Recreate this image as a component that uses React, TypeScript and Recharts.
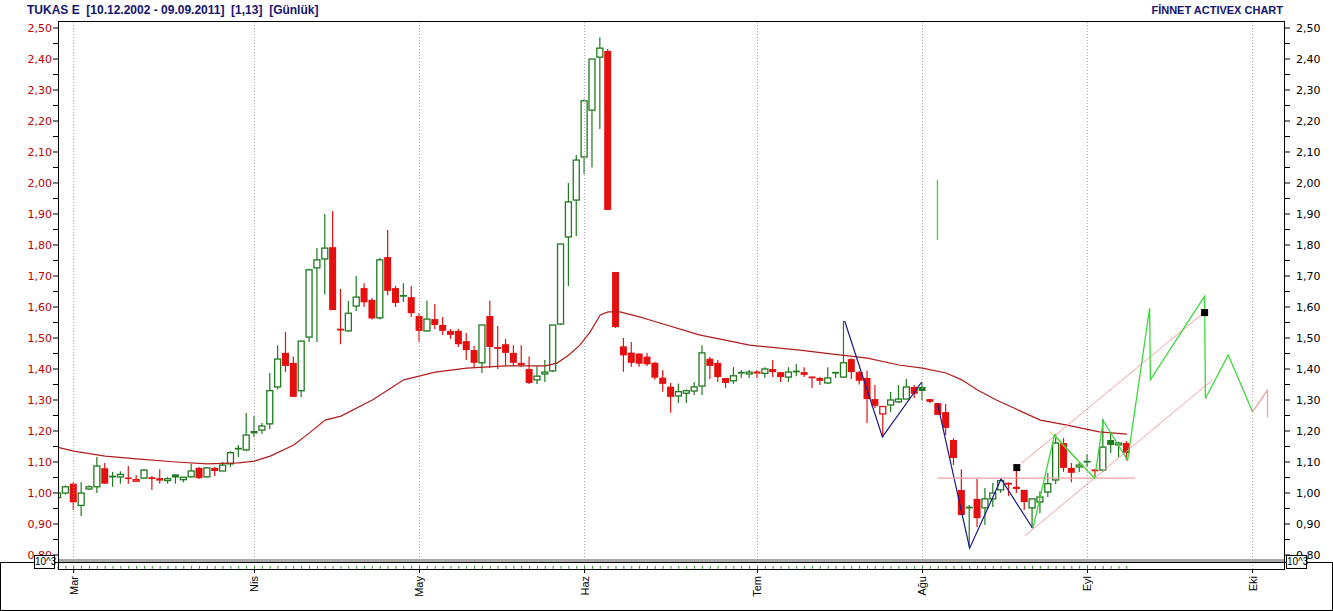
import React from 'react';
import { ComposedChart, Bar, Line, Scatter, XAxis, YAxis, ReferenceLine } from 'recharts';

// ─── Daily candles, one per trading day (index 0 = first visible day) ────────

const OPEN = [
  0.985, 1.0, 1.03, 0.96, 1.013, 1.02, 1.08, 1.05, 1.052, 1.05,
  1.038, 1.048, 1.05, 1.048, 1.04, 1.06, 1.043, 1.052, 1.081, 1.052,
  1.081, 1.071, 1.094, 1.14, 1.139, 1.2, 1.203, 1.223, 1.342, 1.452,
  1.42, 1.33, 1.503, 1.726, 1.755, 1.793, 1.53, 1.523, 1.603, 1.661,
  1.623, 1.565, 1.761, 1.661, 1.632, 1.632, 1.571, 1.523, 1.561, 1.542,
  1.523, 1.523, 1.49, 1.461, 1.42, 1.571, 1.471, 1.48, 1.452, 1.42,
  1.4, 1.365, 1.384, 1.394, 1.545, 1.826, 1.945, 2.084, 2.235, 2.406,
  2.426, 1.713, 1.473, 1.453, 1.45, 1.44, 1.42, 1.372, 1.343, 1.313,
  1.322, 1.329, 1.345, 1.433, 1.42, 1.371, 1.362, 1.385, 1.384, 1.392,
  1.386, 1.4, 1.39, 1.374, 1.389, 1.39, 1.375, 1.371, 1.355, 1.385,
  1.374, 1.432, 1.39, 1.371, 1.303, 1.255, 1.284, 1.294, 1.303, 1.342,
  1.342, 1.303, 1.29, 1.261, 1.171, 1.01, 0.95, 0.981, 0.952, 0.981,
  1.01, 1.034, 1.02, 1.01, 0.952, 0.971, 1.003, 1.042, 1.161, 1.081,
  1.084, 1.099, 1.075, 1.074, 1.171, 1.155, 1.161,
];
const HIGH = [
  1.005, 1.025, 1.035, 1.035, 1.025, 1.116, 1.097, 1.068, 1.07, 1.087,
  1.058, 1.077, 1.055, 1.077, 1.052, 1.06, 1.052, 1.094, 1.084, 1.084,
  1.084, 1.1, 1.135, 1.155, 1.258, 1.248, 1.226, 1.387, 1.477, 1.52,
  1.44, 1.49, 1.723, 1.79, 1.9, 1.91, 1.658, 1.62, 1.7, 1.677,
  1.629, 1.758, 1.848, 1.668, 1.677, 1.668, 1.581, 1.62, 1.61, 1.568,
  1.529, 1.529, 1.516, 1.474, 1.542, 1.62, 1.539, 1.497, 1.477, 1.477,
  1.44, 1.41, 1.429, 1.542, 1.803, 2.0, 2.09, 2.27, 2.4, 2.47,
  2.432, 1.713, 1.5, 1.487, 1.45, 1.452, 1.423, 1.397, 1.355, 1.353,
  1.335, 1.358, 1.477, 1.439, 1.429, 1.371, 1.406, 1.397, 1.397, 1.397,
  1.406, 1.429, 1.39, 1.406, 1.416, 1.406, 1.375, 1.374, 1.406, 1.39,
  1.555, 1.435, 1.394, 1.394, 1.348, 1.281, 1.326, 1.348, 1.368, 1.348,
  1.358, 1.303, 1.29, 1.287, 1.177, 1.077, 0.961, 1.045, 1.016, 1.032,
  1.048, 1.034, 1.09, 1.01, 0.981, 1.006, 1.065, 1.19, 1.177, 1.097,
  1.097, 1.126, 1.077, 1.239, 1.193, 1.165, 1.168,
];
const LOW = [
  0.98, 0.995, 0.945, 0.926, 1.01, 1.0, 1.03, 1.02, 1.03, 1.03,
  1.035, 1.045, 1.01, 1.03, 1.03, 1.03, 1.035, 1.05, 1.045, 1.05,
  1.055, 1.07, 1.084, 1.116, 1.135, 1.18, 1.19, 1.206, 1.335, 1.39,
  1.31, 1.31, 1.487, 1.487, 1.64, 1.59, 1.48, 1.52, 1.587, 1.6,
  1.56, 1.56, 1.638, 1.6, 1.616, 1.568, 1.487, 1.52, 1.529, 1.51,
  1.497, 1.471, 1.429, 1.403, 1.387, 1.403, 1.4, 1.41, 1.41, 1.406,
  1.352, 1.352, 1.358, 1.39, 1.542, 1.668, 1.829, 2.029, 2.05, 2.174,
  1.913, 1.532, 1.391, 1.407, 1.407, 1.41, 1.365, 1.327, 1.259, 1.29,
  1.29, 1.316, 1.316, 1.368, 1.358, 1.339, 1.352, 1.371, 1.371, 1.371,
  1.371, 1.374, 1.358, 1.358, 1.377, 1.374, 1.339, 1.348, 1.352, 1.371,
  1.371, 1.368, 1.35, 1.226, 1.274, 1.18, 1.261, 1.29, 1.303, 1.306,
  1.3, 1.29, 1.252, 1.187, 1.09, 0.929, 0.826, 0.89, 0.897, 0.955,
  1.0, 0.99, 1.0, 0.945, 0.887, 0.935, 0.987, 1.029, 1.068, 1.035,
  1.068, 1.084, 1.052, 1.068, 1.129, 1.116, 1.106,
];
const CLOSE = [
  1.0, 1.02, 0.97, 1.0, 1.02, 1.087, 1.03, 1.053, 1.06, 1.045,
  1.043, 1.074, 1.048, 1.04, 1.046, 1.05, 1.051, 1.071, 1.048, 1.081,
  1.071, 1.09, 1.13, 1.143, 1.187, 1.192, 1.216, 1.33, 1.432, 1.41,
  1.31, 1.49, 1.72, 1.752, 1.79, 1.59, 1.527, 1.58, 1.632, 1.615,
  1.563, 1.752, 1.652, 1.613, 1.636, 1.58, 1.523, 1.561, 1.542, 1.523,
  1.51, 1.48, 1.461, 1.42, 1.542, 1.471, 1.465, 1.452, 1.42, 1.413,
  1.355, 1.377, 1.39, 1.542, 1.803, 1.939, 2.074, 2.265, 2.4, 2.435,
  1.913, 1.535, 1.444, 1.42, 1.417, 1.415, 1.372, 1.352, 1.31, 1.327,
  1.33, 1.342, 1.452, 1.41, 1.374, 1.355, 1.378, 1.388, 1.39, 1.385,
  1.4, 1.39, 1.374, 1.39, 1.392, 1.381, 1.373, 1.362, 1.371, 1.388,
  1.42, 1.39, 1.362, 1.303, 1.281, 1.279, 1.3, 1.303, 1.342, 1.32,
  1.329, 1.294, 1.252, 1.21, 1.113, 0.929, 0.953, 0.919, 0.981, 1.0,
  1.04, 1.03, 1.013, 0.971, 0.981, 0.987, 1.03, 1.161, 1.081, 1.065,
  1.09, 1.101, 1.073, 1.148, 1.155, 1.161, 1.129,
];

// moving average, read at points along the curve: [day index, price]
const MOVING_AVG: [number, number][] = [
  [0, 1.147], [2, 1.135], [6, 1.119], [10, 1.11], [15, 1.1], [19, 1.094],
  [23, 1.097], [25, 1.103], [27, 1.119], [30, 1.155], [32, 1.194], [34, 1.235],
  [36, 1.248], [40, 1.3], [44, 1.365], [48, 1.39], [52, 1.403], [57, 1.41],
  [62, 1.41], [63.5, 1.419], [65, 1.445], [66.4, 1.477], [67.7, 1.519], [69, 1.574],
  [70, 1.584], [71.5, 1.584], [74, 1.568], [75.3, 1.558], [81.6, 1.51], [88, 1.477],
  [94.4, 1.461], [98.6, 1.448], [103, 1.435], [107, 1.413], [110, 1.403], [113, 1.387],
  [115, 1.365], [117, 1.332], [119.4, 1.3], [122.4, 1.265], [125, 1.235], [128.4, 1.219],
  [132.5, 1.197], [136, 1.19],
];

// drawn trend tools: [day index, price]
const BLUE_WAVE_1: [number, number][] = [[100.1, 1.555], [104.9, 1.181], [109.9, 1.358]];
const BLUE_WAVE_2: [number, number][] = [[111.9, 1.29], [116, 0.822], [120, 1.045], [124, 0.887]];
const GREEN_WAVE: [number, number][] = [
  [124.05, 0.886], [126.8, 1.187], [131.9, 1.047], [133, 1.233], [136.1, 1.106],
  [138.9, 1.596], [139, 1.365], [145.9, 1.635], [146, 1.305], [148.9, 1.445], [152, 1.262],
];
const PINK_TAIL: [number, number][] = [[152, 1.262], [153.9, 1.332], [153.9, 1.244]];
const YELLOW_LEG: [number, number][] = [[126.2, 1.198], [131.9, 1.047]];
const CHANNEL_UPPER: [number, number][] = [[122.6, 1.096], [145.7, 1.58]];
const CHANNEL_LOWER: [number, number][] = [[123, 0.861], [146.9, 1.365]];
const SUPPORT_LINE: [number, number][] = [[111.9, 1.048], [137, 1.048]];
const GREEN_MARK: [number, number][] = [[111.9, 2.01], [111.9, 1.816]];
const SQUARES: [number, number][] = [[122, 1.082], [145.9, 1.582]];

// axes
const MONTH_TICKS = [2, 25, 46, 67, 89, 110, 131, 152];
const MONTH_LABELS = ['Mar', 'Nis', 'May', 'Haz', 'Tem', 'Ağu', 'Eyl', 'Eki'];
const PRICE_TICKS = [
  0.8, 0.85, 0.9, 0.95, 1.0, 1.05, 1.1, 1.15, 1.2, 1.25, 1.3, 1.35,
  1.4, 1.45, 1.5, 1.55, 1.6, 1.65, 1.7, 1.75, 1.8, 1.85, 1.9, 1.95,
  2.0, 2.05, 2.1, 2.15, 2.2, 2.25, 2.3, 2.35, 2.4, 2.45, 2.5,
];
// the volume pane is squeezed to a few pixels, so every day's bar is clipped to the same stub
const VOL_STUB: [number, number] = [0.7556, 0.7648];

// ─── Look ────────────────────────────────────────────────────────────────────

const C = {
  up: '#1e7b1e',
  down: '#e41010',
  ma: '#b01c1c',
  blue: '#1a1a86',
  lime: '#3cd83c',
  yellow: '#b4d428',
  pink: '#f2a0a0',
  grid: '#a8a8a8',
  vol: '#2a9a2a',
  title: '#14146e',
  leftLbl: '#c00000',
};

const X_DOMAIN: [number, number] = [0, 156];
const Y_DOMAIN: [number, number] = [0.75484, 2.52258];

const candles = OPEN.map((o, i) => ({
  i, o, h: HIGH[i], l: LOW[i], c: CLOSE[i], pc: i > 0 ? CLOSE[i - 1] : null,
}));
const pts = (arr: [number, number][]) => arr.map(([x, y]) => ({ x, y }));

function Candle(props: any) {
  const { x, y, width, height, payload } = props;
  if (!payload || !isFinite(y) || !isFinite(height)) return <g />;
  const { o, h, l, c, pc } = payload;
  const top = Math.min(y, y + height);
  const span = Math.abs(height);
  const k = span / (h - l);
  const py = (v: number) => top + (h - v) * k;
  const cx = x + width / 2;
  const rising = pc == null ? c >= o : c >= pc;
  const col = rising ? C.up : C.down;
  let body;
  if (Math.abs(c - o) < 0.0045) {
    body = <line x1={cx - 3.5} x2={cx + 3.5} y1={py(c)} y2={py(c)} stroke={col} strokeWidth={1.8} />;
  } else if (c > o) {
    body = <rect x={cx - 3} y={py(c)} width={6} height={py(o) - py(c)} fill="#fff" stroke={col} strokeWidth={1.3} />;
  } else {
    body = <rect x={cx - 3.5} y={py(o)} width={7} height={py(c) - py(o)} fill={col} />;
  }
  return (
    <g>
      <line x1={cx} x2={cx} y1={top} y2={top + span} stroke={col} strokeWidth={1.2} />
      {body}
    </g>
  );
}

const priceLabel = (v: number) => v.toFixed(2).replace('.', ',');
const isMajor = (v: number) => Math.round(v * 100) % 10 === 0;

function PriceTick({ x, y, payload, anchor, fill }: any) {
  if (!isMajor(payload.value)) return <g />;
  return (
    <text x={x} y={y} dy="0.36em" textAnchor={anchor} fill={fill} fontSize={11} fontFamily="DejaVu Sans">
      {priceLabel(payload.value)}
    </text>
  );
}

function MonthTick({ x, y, payload }: any) {
  const label = MONTH_LABELS[MONTH_TICKS.indexOf(payload.value)];
  return (
    <text x={x} y={y} dy="0.36em" transform={`rotate(-90 ${x} ${y})`} textAnchor="end"
      fill="#000" fontSize={11} fontFamily="Liberation Sans">
      {label}
    </text>
  );
}

function Overlay(key: string, data: [number, number][], stroke: string, width = 1.2, axis = 'L') {
  return (
    <Line key={key} data={pts(data)} xAxisId="n" yAxisId={axis} dataKey="y" type="linear"
      stroke={stroke} strokeWidth={width} dot={false} activeDot={false} isAnimationActive={false} />
  );
}

const line = (s: React.CSSProperties) => <div style={{ position: 'absolute', background: '#000', ...s }} />;

export default function App() {
  return (
    <div style={{ position: 'absolute', left: 0, top: 0, width: 1333, height: 611, background: '#fff', overflow: 'hidden' }}>
      {/* header */}
      <div style={{ position: 'absolute', left: 27, top: 3, fontFamily: 'Liberation Sans', fontWeight: 'bold', fontSize: 12, lineHeight: '14px', color: C.title, whiteSpace: 'pre' }}>
        {'TUKAS E  [10.12.2002 - 09.09.2011]  [1,13]  [Günlük]'}
      </div>
      <div style={{ position: 'absolute', right: 50, top: 3, fontFamily: 'Liberation Sans', fontWeight: 'bold', fontSize: 11, lineHeight: '14px', color: C.title, whiteSpace: 'pre' }}>
        FİNNET ACTIVEX CHART
      </div>

      {/* price pane (runs down through the squeezed volume strip) */}
      <div style={{ position: 'absolute', left: 0, top: 0 }}>
        <ComposedChart width={1333} height={569} data={candles} margin={{ top: 21, right: 0, bottom: 0, left: 8 }}>
          <XAxis xAxisId="c" dataKey="i" type="number" domain={X_DOMAIN} allowDataOverflow hide />
          <XAxis xAxisId="n" dataKey="x" type="number" domain={X_DOMAIN} allowDataOverflow hide />
          <YAxis yAxisId="L" orientation="left" width={50} domain={Y_DOMAIN} allowDataOverflow ticks={PRICE_TICKS}
            interval={0} axisLine={false} tickSize={5} tickMargin={1} tickLine={{ stroke: '#000' }}
            tick={(p: any) => <PriceTick {...p} anchor="end" fill={C.leftLbl} />} />
          <YAxis yAxisId="R" orientation="right" width={49} domain={Y_DOMAIN} allowDataOverflow ticks={PRICE_TICKS}
            interval={0} axisLine={false} tickSize={6} tickMargin={6} tickLine={{ stroke: '#000' }}
            tick={(p: any) => <PriceTick {...p} anchor="start" fill="#000" />} />

          {MONTH_TICKS.map(m => (
            <ReferenceLine key={'g' + m} x={m} xAxisId="n" yAxisId="L" stroke={C.grid} strokeDasharray="1 2" />
          ))}

          {candles.map(d => (
            <ReferenceLine key={'v' + d.i} xAxisId="c" yAxisId="L" stroke={C.vol} strokeWidth={1} ifOverflow="visible"
              segment={[{ x: d.i, y: VOL_STUB[0] }, { x: d.i, y: VOL_STUB[1] }]} />
          ))}

          {Overlay('ma', MOVING_AVG, C.ma, 1.2)}

          <Bar xAxisId="c" yAxisId="L" dataKey={(d: any) => [d.l, d.h]} barSize={7}
            shape={(p: any) => <Candle {...p} />} isAnimationActive={false} />

          {Overlay('b1', BLUE_WAVE_1, C.blue)}
          {Overlay('b2', BLUE_WAVE_2, C.blue)}
          {Overlay('sup', SUPPORT_LINE, C.pink, 1.2, 'R')}
          {Overlay('chu', CHANNEL_UPPER, C.pink, 1)}
          {Overlay('chl', CHANNEL_LOWER, C.pink, 1)}
          <Scatter xAxisId="n" yAxisId="L" data={pts(SQUARES)} dataKey="y" isAnimationActive={false}
            shape={(p: any) => <rect x={p.cx - 3.5} y={p.cy - 3.5} width={7} height={7} fill="#000" />} />
          {Overlay('yl', YELLOW_LEG, C.yellow, 1)}
          {Overlay('gw', GREEN_WAVE, C.lime, 1.3)}
          {Overlay('pt', PINK_TAIL, C.pink, 1.3)}
          {Overlay('gm', GREEN_MARK, C.lime, 1.3)}
        </ComposedChart>
      </div>

      {/* date axis */}
      <div style={{ position: 'absolute', left: 0, top: 562 }}>
        <ComposedChart width={1333} height={49} data={candles} margin={{ top: 4, right: 49, bottom: 0, left: 58 }}>
          <XAxis dataKey="i" type="number" domain={X_DOMAIN} allowDataOverflow ticks={MONTH_TICKS} interval={0}
            height={42} axisLine={false} tickSize={4} tickMargin={3} tickLine={{ stroke: '#000' }}
            tick={(p: any) => <MonthTick {...p} />} />
          <YAxis domain={[0, 1]} hide />
        </ComposedChart>
      </div>

      {/* frame */}
      {line({ left: 58, top: 21, width: 1227, height: 1 })}
      {line({ left: 58, top: 21, width: 1, height: 549 })}
      {line({ left: 1284, top: 21, width: 1, height: 549 })}
      <div style={{ position: 'absolute', left: 59, top: 559, width: 1225, height: 3, background: '#a8a8a8' }} />
      {line({ left: 0, top: 562, width: 1333, height: 1 })}
      {line({ left: 58, top: 569, width: 1227, height: 1 })}
      {line({ left: 0, top: 562, width: 1, height: 49 })}
      {line({ left: 1332, top: 562, width: 1, height: 49 })}
      {line({ left: 0, top: 610, width: 1333, height: 1 })}

      {/* 10^3 badges */}
      {[34, 1286].map(l => (
        <div key={l} style={{ position: 'absolute', left: l, top: 555, width: 19, height: 12, border: '1px solid #000', background: '#fff',
          fontFamily: 'Liberation Sans', fontSize: 10, lineHeight: '12px', textAlign: 'center', color: '#000' }}>
          10^3
        </div>
      ))}
    </div>
  );
}
